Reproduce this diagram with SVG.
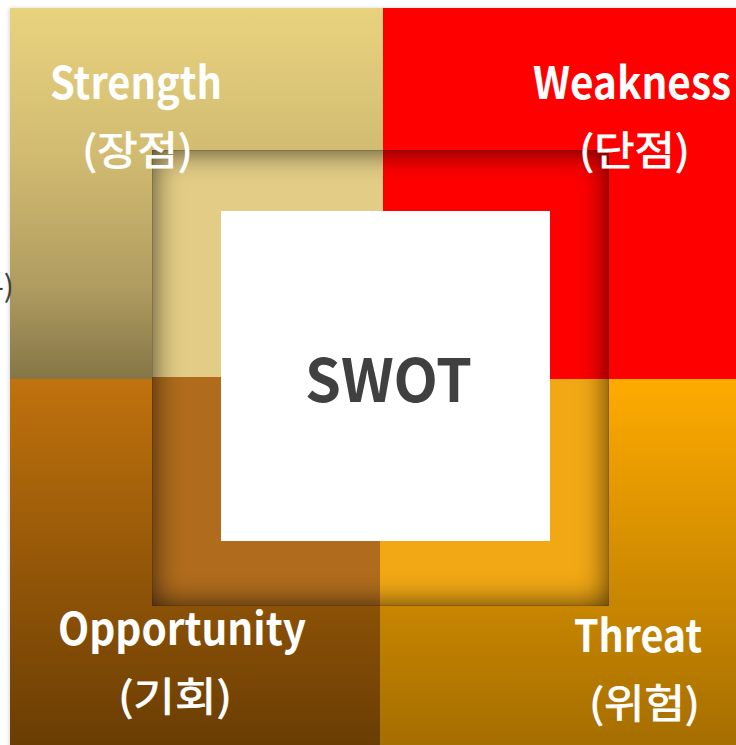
<svg xmlns="http://www.w3.org/2000/svg" width="736" height="745" viewBox="0 0 736 745">
  <defs>
    <linearGradient id="gTL" x1="0" y1="8" x2="0" y2="379" gradientUnits="userSpaceOnUse">
      <stop offset="0" stop-color="#e9d27e"/>
      <stop offset="0.4" stop-color="#d1bb71"/>
      <stop offset="0.75" stop-color="#b09c60"/>
      <stop offset="1" stop-color="#857647"/>
    </linearGradient>
    <linearGradient id="gBL" x1="0" y1="379" x2="0" y2="745" gradientUnits="userSpaceOnUse">
      <stop offset="0" stop-color="#c0720d"/>
      <stop offset="1" stop-color="#6a3d03"/>
    </linearGradient>
    <linearGradient id="gBR" x1="0" y1="379" x2="0" y2="745" gradientUnits="userSpaceOnUse">
      <stop offset="0" stop-color="#ffab00"/>
      <stop offset="1" stop-color="#a56e00"/>
    </linearGradient>
    <filter id="blur" x="-0.2" y="-0.2" width="1.4" height="1.4">
      <feGaussianBlur stdDeviation="15"/>
    </filter>
    <filter id="soft" x="-0.1" y="-0.1" width="1.2" height="1.2">
      <feGaussianBlur stdDeviation="2"/>
    </filter>
    <clipPath id="innerClip"><rect x="152" y="150" width="457" height="456"/></clipPath>
  </defs>
  <style>
    .lbl { font-family: "Noto Sans CJK KR", "Noto Sans", sans-serif; fill: #ffffff; }
    .en { font-weight: bold; font-size: 44px; }
    .ko { font-weight: normal; font-size: 40px; stroke: #ffffff; stroke-width: 0.8px; }
  </style>

  <rect width="736" height="745" fill="#ffffff"/>

  <!-- outer shadow -->
  <rect x="9" y="8" width="740" height="745" fill="#000" fill-opacity="0.15" filter="url(#soft)"/>

  <g id="strength">
    <rect x="10" y="8" width="373" height="371" fill="url(#gTL)"/>
  </g>
  <g id="weakness">
    <rect x="383" y="8" width="353" height="371" fill="#ff0000"/>
  </g>
  <g id="opportunity">
    <rect x="10" y="379" width="370" height="366" fill="url(#gBL)"/>
  </g>
  <g id="threat">
    <rect x="380" y="379" width="356" height="366" fill="url(#gBR)"/>
  </g>

  <text x="14" y="297" text-anchor="end" font-family="Noto Sans CJK KR, sans-serif" font-size="30" fill="#404040">-)</text>

  <g id="inner-frame">
    <rect x="152" y="150" width="231" height="227" fill="#e3cd86"/>
    <rect x="383" y="150" width="226" height="229" fill="#ff0000"/>
    <rect x="152" y="377" width="228" height="229" fill="#b06c1c"/>
    <rect x="380" y="379" width="229" height="227" fill="#f2a814"/>
    <g clip-path="url(#innerClip)">
      <path d="M100 100 H670 V670 H100 Z M152 150 V606 H609 V150 Z" fill="#000" fill-opacity="0.72" fill-rule="evenodd" filter="url(#blur)"/>
    </g>
    <rect x="152.5" y="150.5" width="456" height="455" fill="none" stroke="#000" stroke-opacity="0.12"/>
  </g>

  <g id="strength-label">
    <text class="lbl en" x="50" y="99" textLength="172" lengthAdjust="spacingAndGlyphs">Strength</text>
    <text class="lbl ko" x="82" y="165" textLength="111" lengthAdjust="spacingAndGlyphs">(장점)</text>
  </g>
  <g id="weakness-label">
    <text class="lbl en" x="533" y="99" textLength="198" lengthAdjust="spacingAndGlyphs">Weakness</text>
    <text class="lbl ko" x="579" y="165" textLength="111" lengthAdjust="spacingAndGlyphs">(단점)</text>
  </g>
  <g id="opportunity-label">
    <text class="lbl en" x="58" y="645" textLength="248" lengthAdjust="spacingAndGlyphs">Opportunity</text>
    <text class="lbl ko" x="118" y="711" textLength="114" lengthAdjust="spacingAndGlyphs">(기회)</text>
  </g>
  <g id="threat-label">
    <text class="lbl en" x="574" y="652" textLength="128" lengthAdjust="spacingAndGlyphs">Threat</text>
    <text class="lbl ko" x="589" y="718" textLength="111" lengthAdjust="spacingAndGlyphs">(위험)</text>
  </g>

  <g id="swot">
    <rect x="221" y="211" width="329" height="330" fill="#ffffff"/>
    <text x="388.5" y="402" text-anchor="middle" font-family="Noto Sans CJK KR, Noto Sans, sans-serif" font-weight="bold" font-size="60" fill="#404040" textLength="167" lengthAdjust="spacingAndGlyphs">SWOT</text>
  </g>
</svg>
